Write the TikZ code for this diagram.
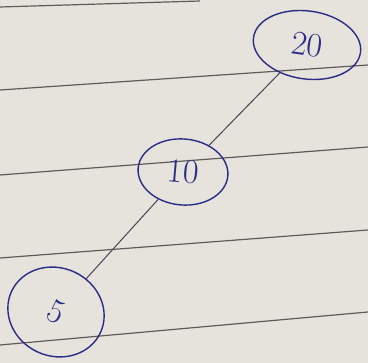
\documentclass[tikz,border=0pt]{standalone}
\usetikzlibrary{shapes.geometric}
\definecolor{paper}{HTML}{E6E2DC}
\definecolor{rule}{HTML}{5E5C5A}
\definecolor{ink}{HTML}{2B2C86}
\definecolor{pencil}{HTML}{45455A}
\tikzset{
  treenode/.style={ellipse, draw=ink, line width=1.4pt, inner sep=0pt, text=ink, font=\fontsize{34}{34}\selectfont},
  ruled/.style={draw=rule, line width=1.2pt},
  edge/.style={draw=pencil, line width=1pt}
}
\begin{document}
\begin{tikzpicture}[x=1pt,y=-1pt]
\fill[paper] (0,0) rectangle (368,363);
\useasboundingbox (0,0) rectangle (368,363);
\draw[ruled] (0,7) -- (200,1);
\draw[ruled] (0,90) -- (368,65);
\draw[ruled] (0,175) -- (368,147);
\draw[ruled] (0,258) -- (368,230);
\draw[ruled] (0,345) -- (368,312);
\node[treenode, minimum width=108pt, minimum height=68pt, rotate=-8] (n20) at (307,45) {20};
\node[treenode, minimum width=90pt, minimum height=66pt, rotate=-5] (n10) at (183,172) {10};
\node[treenode, minimum width=98pt, minimum height=88pt, rotate=-25] (n5) at (56,312) {5};
\draw[edge] (n20) -- (n10);
\draw[edge] (n10) -- (n5);
\end{tikzpicture}
\end{document}
